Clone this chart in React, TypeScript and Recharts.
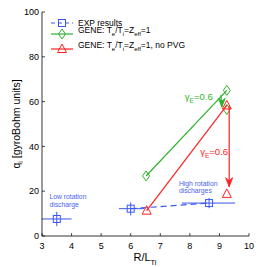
import { ComposedChart, Scatter, XAxis, YAxis, ErrorBar } from "recharts";

const BLUE = "#3a56ef";
const GREEN = "#2eb32e";
const RED = "#ff2020";
const FONT = "Liberation Sans, Arial, sans-serif";

const xTicks = [3, 4, 5, 6, 7, 8, 9, 10];
const yTicks = [0, 10, 20, 30, 40, 50, 60, 70, 80, 90, 100];

// experimental points (error bars as [low, high])
const expLow = [{ x: 3.5, y: 7.6, xErr: [0.5, 0.5], yErr: [3.2, 3.2] }];
const expHigh = [
  { x: 6.0, y: 12.2, xErr: [0.4, 0.45], yErr: [3, 2.8] },
  { x: 8.65, y: 14.7, xErr: [0.92, 0.88], yErr: [2.3, 2.3] },
];

// GENE runs
const greenLine = [
  { x: 6.52, y: 26.8 },
  { x: 9.25, y: 65 },
];
const greenAlt = [{ x: 9.25, y: 56.5 }];
const greenArrow = [
  { x: 9.05, y: 63, head: false },
  { x: 9.08, y: 57.5, head: true },
];
const redLine = [
  { x: 6.54, y: 11.3 },
  { x: 9.25, y: 58.3 },
];
const redAlt = [{ x: 9.25, y: 18.8 }];
const redArrow = [
  { x: 9.33, y: 58, head: false },
  { x: 9.33, y: 22, head: true },
];

// annotations
const gammaLabels = [
  { x: 7.83, y: 60.5, color: GREEN },
  { x: 8.35, y: 36.2, color: RED },
];
const noteLabels = [
  { x: 3.25, y: 16.5, text: "Low rotation" },
  { x: 3.25, y: 12.8, text: "discharge" },
  { x: 7.63, y: 22.4, text: "High rotation" },
  { x: 7.63, y: 19.0, text: "discharges" },
];

const legendRows = [
  { key: "exp", color: BLUE, marker: "square", dashed: true, y: 23 },
  { key: "gene", color: GREEN, marker: "diamond", dashed: false, y: 34 },
  { key: "pvg", color: RED, marker: "triangle", dashed: false, y: 49 },
];

function Marker({ kind, cx, cy, color }: any) {
  if (kind === "square")
    return <rect x={cx - 3.5} y={cy - 3.5} width={7} height={7} fill="none" stroke={color} strokeWidth={1} />;
  if (kind === "diamond")
    return (
      <polygon
        points={`${cx},${cy - 5} ${cx + 3.5},${cy} ${cx},${cy + 5} ${cx - 3.5},${cy}`}
        fill="none"
        stroke={color}
        strokeWidth={1}
      />
    );
  return (
    <polygon
      points={`${cx},${cy - 5} ${cx + 4.5},${cy + 3.5} ${cx - 4.5},${cy + 3.5}`}
      fill="none"
      stroke={color}
      strokeWidth={1}
    />
  );
}

const markerShape = (kind: string, color: string) => (p: any) =>
  <Marker kind={kind} cx={p.cx} cy={p.cy} color={color} />;

const arrowShape = (color: string) => (p: any) => {
  if (!p.payload || !p.payload.head) return <g />;
  const { cx, cy } = p;
  return (
    <polygon
      points={`${cx},${cy} ${cx - 3.5},${cy - 9} ${cx},${cy - 6} ${cx + 3.5},${cy - 9}`}
      fill={color}
      stroke={color}
      strokeWidth={0.8}
    />
  );
};

const gammaShape = (p: any) => (
  <text x={p.cx} y={p.cy} fontSize={9.5} fontFamily={FONT} fill={p.payload.color}>
    γ
    <tspan fontSize={6.5} dy={3}>E</tspan>
    <tspan dy={-3}>=0.6</tspan>
  </text>
);

const noteShape = (p: any) => (
  <text x={p.cx} y={p.cy} fontSize={6.8} fontFamily={FONT} fill="#4a63ee">
    {p.payload.text}
  </text>
);

const BottomTick = ({ x, y, payload }: any) => (
  <g>
    <line x1={x} y1={y} x2={x} y2={y - 3} stroke="#000" strokeWidth={0.7} />
    <text x={x} y={y + 12.5} textAnchor="middle" fontSize={9} fontFamily={FONT} fill="#000">
      {payload.value}
    </text>
  </g>
);
const TopTick = ({ x, y }: any) => <line x1={x} y1={y} x2={x} y2={y + 3} stroke="#000" strokeWidth={0.7} />;
const LeftTick = ({ x, y, payload }: any) => (
  <g>
    <line x1={x} y1={y} x2={x + 3} y2={y} stroke="#000" strokeWidth={0.7} />
    <text x={x - 3} y={y + 3.2} textAnchor="end" fontSize={9} fontFamily={FONT} fill="#000">
      {payload.value}
    </text>
  </g>
);
const RightTick = ({ x, y }: any) => <line x1={x} y1={y} x2={x - 3} y2={y} stroke="#000" strokeWidth={0.7} />;

const LegendOverlay = () => (
  <g>
    {legendRows.map((r) => (
      <g key={r.key}>
        <line
          x1={51}
          x2={73}
          y1={r.y}
          y2={r.y}
          stroke={r.color}
          strokeWidth={1.2}
          strokeDasharray={r.dashed ? "4 3" : undefined}
        />
        <Marker kind={r.marker} cx={62} cy={r.y} color={r.color} />
      </g>
    ))}
    <text x={78} y={26} fontSize={8.5} fontFamily={FONT}>
      EXP results
    </text>
    {[34, 49].map((y, i) => (
      <text key={y} x={78} y={y - 1} fontSize={8.5} fontFamily={FONT}>
        GENE: T<tspan fontSize={6} dy={3}>e</tspan>
        <tspan dy={-3}>/T</tspan>
        <tspan fontSize={6} dy={3}>i</tspan>
        <tspan dy={-3}>=Z</tspan>
        <tspan fontSize={6} dy={3}>eff</tspan>
        <tspan dy={-3}>{i === 0 ? "=1" : "=1, no PVG"}</tspan>
      </text>
    ))}
  </g>
);

export default function App() {
  return (
    <div style={{ position: "absolute", left: 0, top: 0, width: 259, height: 267, background: "#fff" }}>
      <ComposedChart width={259} height={267} margin={{ top: 12, right: 10, bottom: 0, left: 0 }}>
        <XAxis
          type="number"
          dataKey="x"
          domain={[3, 10]}
          ticks={xTicks}
          height={31}
          tickSize={0}
          tickMargin={0}
          tick={BottomTick}
          axisLine={{ stroke: "#000", strokeWidth: 0.8 }}
          allowDataOverflow
        />
        <XAxis
          xAxisId="top"
          orientation="top"
          type="number"
          domain={[3, 10]}
          ticks={xTicks}
          height={0}
          tickSize={0}
          tickMargin={0}
          tick={TopTick}
          axisLine={{ stroke: "#000", strokeWidth: 0.8 }}
        />
        <YAxis
          type="number"
          dataKey="y"
          domain={[0, 100]}
          ticks={yTicks}
          width={42}
          tickSize={0}
          tickMargin={0}
          tick={LeftTick}
          axisLine={{ stroke: "#000", strokeWidth: 0.8 }}
          allowDataOverflow
        />
        <YAxis
          yAxisId="right"
          orientation="right"
          type="number"
          domain={[0, 100]}
          ticks={yTicks}
          width={0}
          tickSize={0}
          tickMargin={0}
          tick={RightTick}
          axisLine={{ stroke: "#000", strokeWidth: 0.8 }}
        />

        <Scatter data={expLow} shape={markerShape("square", BLUE)} isAnimationActive={false}>
          <ErrorBar dataKey="xErr" direction="x" width={0} stroke={BLUE} strokeWidth={1} />
          <ErrorBar dataKey="yErr" direction="y" width={0} stroke={BLUE} strokeWidth={1} />
        </Scatter>
        <Scatter
          data={expHigh}
          line={{ stroke: BLUE, strokeWidth: 1.2, strokeDasharray: "6 4" }}
          lineType="joint"
          shape={markerShape("square", BLUE)}
          isAnimationActive={false}
        >
          <ErrorBar dataKey="xErr" direction="x" width={0} stroke={BLUE} strokeWidth={1} />
          <ErrorBar dataKey="yErr" direction="y" width={0} stroke={BLUE} strokeWidth={1} />
        </Scatter>

        <Scatter
          data={greenLine}
          line={{ stroke: GREEN, strokeWidth: 1.2 }}
          lineType="joint"
          shape={markerShape("diamond", GREEN)}
          isAnimationActive={false}
        />
        <Scatter data={greenAlt} shape={markerShape("diamond", GREEN)} isAnimationActive={false} />
        <Scatter
          data={greenArrow}
          line={{ stroke: GREEN, strokeWidth: 1.2 }}
          lineType="joint"
          shape={arrowShape(GREEN)}
          isAnimationActive={false}
        />

        <Scatter
          data={redLine}
          line={{ stroke: RED, strokeWidth: 1.2 }}
          lineType="joint"
          shape={markerShape("triangle", RED)}
          isAnimationActive={false}
        />
        <Scatter data={redAlt} shape={markerShape("triangle", RED)} isAnimationActive={false} />
        <Scatter
          data={redArrow}
          line={{ stroke: RED, strokeWidth: 1.2 }}
          lineType="joint"
          shape={arrowShape(RED)}
          isAnimationActive={false}
        />

        <Scatter data={gammaLabels} shape={gammaShape} isAnimationActive={false} />
        <Scatter data={noteLabels} shape={noteShape} isAnimationActive={false} />
      </ComposedChart>
      <svg width={259} height={267} style={{ position: "absolute", left: 0, top: 0, pointerEvents: "none" }}>
        <LegendOverlay />
        <text
          transform="translate(20,124) rotate(-90)"
          textAnchor="middle"
          fontSize={10.5}
          fontFamily={FONT}
        >
          q<tspan fontSize={7} dy={3}>i</tspan>
          <tspan dy={-3}> [gyroBohm units]</tspan>
        </text>
        <text x={145} y={261} textAnchor="middle" fontSize={11} fontFamily={FONT}>
          R/L<tspan fontSize={7.5} dy={3.5}>Ti</tspan>
        </text>
      </svg>
    </div>
  );
}
